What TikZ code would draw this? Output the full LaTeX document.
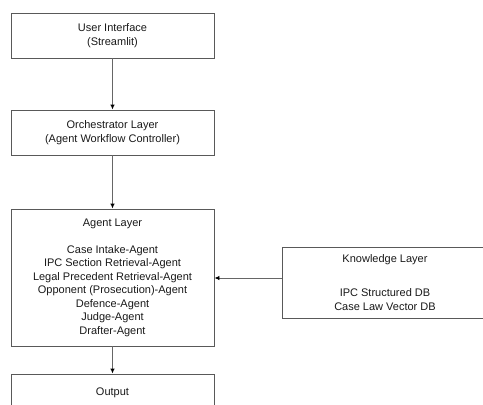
\documentclass[tikz,border=0pt]{standalone}
\usepackage{fontspec}
\setmainfont{Liberation Sans}
\usetikzlibrary{arrows.meta}
\begin{document}
\begin{tikzpicture}[x=1pt,y=1pt,
  layerbox/.style={draw=black!65, line width=0.9pt, rectangle, align=center,
    inner sep=0pt, font=\fontsize{11}{13.5}\selectfont, text=black!90},
  arr/.style={draw=black!60, line width=0.9pt, -{Latex[length=5pt,width=4.5pt,color=black]}}]
\clip (0,0) rectangle (483,-405);
\node[layerbox, minimum width=203pt, minimum height=45pt] (ui) at (112.5,-35.5)
  {User Interface\\(Streamlit)};
\node[layerbox, minimum width=203pt, minimum height=45pt] (orch) at (112.5,-132.5)
  {Orchestrator Layer\\(Agent Workflow Controller)};
\node[layerbox, minimum width=203pt, minimum height=137pt] (agent) at (112.5,-277.5)
  {Agent Layer\\[13.5pt]Case Intake-Agent\\IPC Section Retrieval-Agent\\Legal Precedent Retrieval-Agent\\Opponent (Prosecution)-Agent\\Defence-Agent\\Judge-Agent\\Drafter-Agent};
\node[layerbox, minimum width=203pt, minimum height=38pt] (out) at (112.5,-393)
  {Output};
\node[layerbox, minimum width=206pt, minimum height=71pt] (know) at (385,-282.5)
  {Knowledge Layer\\[21pt]IPC Structured DB\\Case Law Vector DB};
\draw[arr] (ui) -- (orch);
\draw[arr] (orch) -- (agent);
\draw[arr] (agent) -- (out);
\draw[arr] ([yshift=4.5pt]know.west) -- ([yshift=4.5pt]know.west -| agent.east);
\end{tikzpicture}
\end{document}
